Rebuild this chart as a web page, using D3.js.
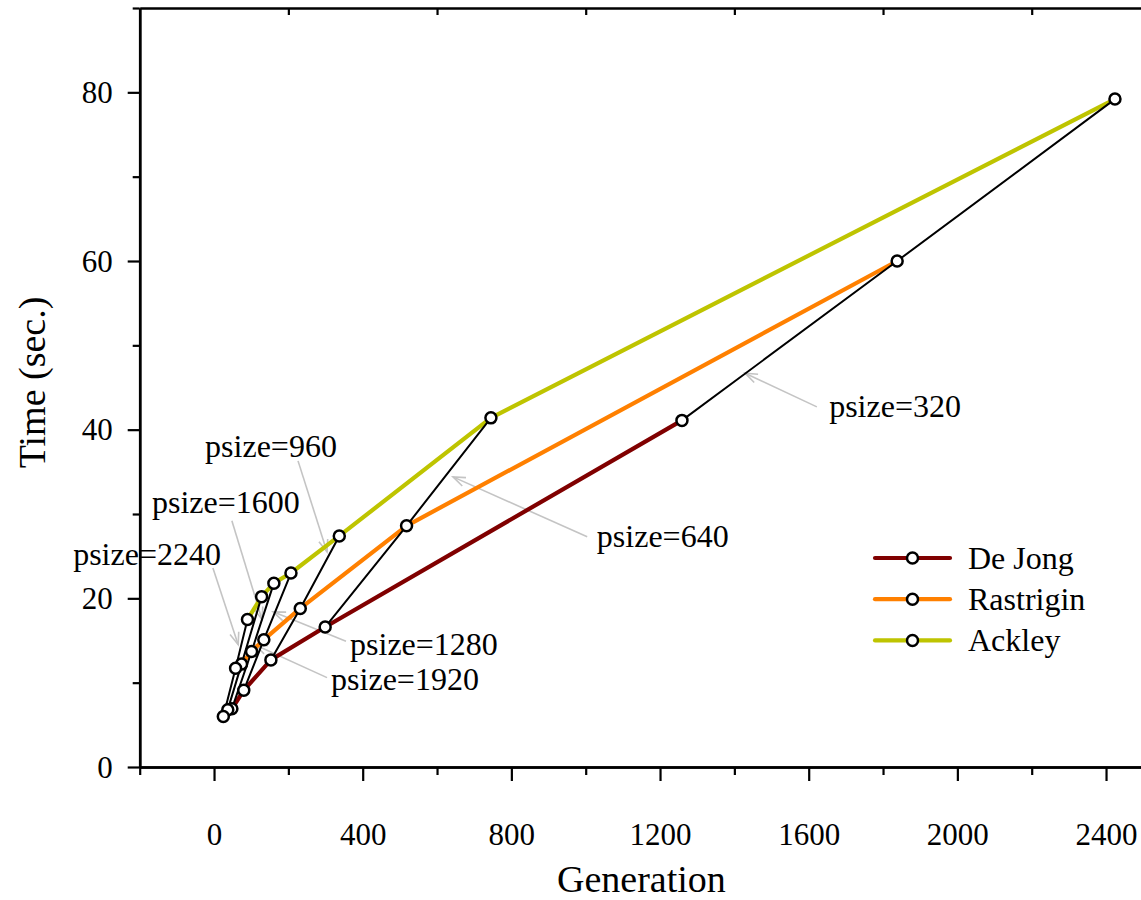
<!DOCTYPE html>
<html>
<head>
<meta charset="utf-8">
<script src="https://cdn.jsdelivr.net/npm/d3@7"></script>
<style>
  html, body { margin: 0; padding: 0; background: #ffffff; }
  svg { display: block; }
  text { font-family: "Liberation Serif", "Times New Roman", serif; fill: #000; }
</style>
</head>
<body>
<svg id="chart" width="1141" height="900"></svg>
<script>
// Population sizes; each one gives a point on every test function's curve
const psizes = [320, 640, 960, 1280, 1600, 1920, 2240];

// Generations needed and run time (seconds) per population size
const deJongGen      = [1259, 299, 153, 80, 48, 37, 25];
const deJongTime     = [41.1, 16.6, 12.7, 9.1, 6.9, 6.8, 6.0];
const rastriginGen   = [1838, 518, 232, 134, 101, 74, 58];
const rastriginTime  = [60.0, 28.6, 18.8, 15.1, 13.7, 12.2, 11.7];
const ackleyGen      = [2424, 745, 337, 207, 161, 128, 90];
const ackleyTime     = [79.2, 41.4, 27.4, 23.0, 21.8, 20.2, 17.5];

const seriesNames  = ["De Jong", "Rastrigin", "Ackley"];
const seriesColors = ["#800000", "#ff8000", "#bec400"];

// Axis ticks
const xMajorTicks = [0, 400, 800, 1200, 1600, 2000, 2400];
const xMinorTicks = [-200, 200, 600, 1000, 1400, 1800, 2200];
const xTopTicks   = [200, 600, 1000, 1400, 1800, 2200];
const yMajorTicks = [0, 20, 40, 60, 80];
const yMinorTicks = [10, 30, 50, 70, 90];

// Callouts naming the population size of each connecting line (data space)
const annotations = [
  { text: "psize=320",  at: [1655, 41.5], from: [1622, 42.7], to: [1429, 46.7] },
  { text: "psize=640",  at: [1030, 26.1], from: [1004, 27.3], to: [643, 34.4] },
  { text: "psize=960",  at: [-24, 36.8],  from: [226, 36.3],  to: [304, 25.5] },
  { text: "psize=1600", at: [-167, 30.1], from: [48, 29.2],   to: [129, 17.5] },
  { text: "psize=2240", at: [-379, 24.0], from: [-3, 23.6],   to: [65, 14.5] },
  { text: "psize=1280", at: [366, 13.3],  from: [355, 14.9],  to: [159, 18.4] },
  { text: "psize=1920", at: [315, 9.1],   from: [304, 10.6],  to: [110, 14.5] }
];

const svg = d3.select("#chart");

const x = d3.scaleLinear().domain([-200, 2500]).range([139.7, 1143.2]);
const y = d3.scaleLinear().domain([0, 90]).range([767, 8]);

const series = [
  { name: seriesNames[0], color: seriesColors[0], gen: deJongGen, time: deJongTime },
  { name: seriesNames[1], color: seriesColors[1], gen: rastriginGen, time: rastriginTime },
  { name: seriesNames[2], color: seriesColors[2], gen: ackleyGen, time: ackleyTime }
].map(s => ({ ...s, points: psizes.map((p, i) => ({ psize: p, gen: s.gen[i], time: s.time[i] })) }));

// ---- Axes ----
const axisStroke = 2.5;
function styleAxis(g) {
  g.selectAll("path.domain").attr("stroke", "#000").attr("stroke-width", axisStroke);
  g.selectAll(".tick line").attr("stroke", "#000").attr("stroke-width", 2.2);
}

// bottom: major ticks with labels
const gxMajor = svg.append("g").attr("transform", `translate(0,${y(0)})`)
  .call(d3.axisBottom(x).tickValues(xMajorTicks).tickSize(14).tickSizeOuter(0).tickFormat(d3.format("d")));
styleAxis(gxMajor);
gxMajor.selectAll(".tick text").attr("y", 78).attr("dy", 0).attr("font-size", 31)
  .style("font-family", '"Liberation Serif", "Times New Roman", serif');

// bottom: minor ticks
const gxMinor = svg.append("g").attr("transform", `translate(0,${y(0)})`)
  .call(d3.axisBottom(x).tickValues(xMinorTicks).tickSize(8).tickSizeOuter(0).tickFormat(""));
styleAxis(gxMinor);

// top frame with inward ticks
const gxTop = svg.append("g").attr("transform", `translate(0,${y(90)})`)
  .call(d3.axisBottom(x).tickValues(xTopTicks).tickSize(7).tickSizeOuter(0).tickFormat(""));
styleAxis(gxTop);

// left: major ticks with labels
const gyMajor = svg.append("g").attr("transform", `translate(${x(-200)},0)`)
  .call(d3.axisLeft(y).tickValues(yMajorTicks).tickSize(12).tickSizeOuter(0).tickPadding(15).tickFormat(d3.format("d")));
styleAxis(gyMajor);
gyMajor.selectAll(".tick text").attr("font-size", 31).attr("dy", "0.33em")
  .style("font-family", '"Liberation Serif", "Times New Roman", serif');

// left: minor ticks
const gyMinor = svg.append("g").attr("transform", `translate(${x(-200)},0)`)
  .call(d3.axisLeft(y).tickValues(yMinorTicks).tickSize(7).tickSizeOuter(0).tickFormat(""));
styleAxis(gyMinor);

// axis titles
svg.append("text")
  .attr("x", (x.range()[0] + x.range()[1]) / 2).attr("y", 892)
  .attr("text-anchor", "middle").attr("font-size", 38)
  .text("Generation");

svg.append("text")
  .attr("transform", `translate(45,${(y.range()[0] + y.range()[1]) / 2 - 5}) rotate(-90)`)
  .attr("text-anchor", "middle").attr("font-size", 38)
  .text("Time (sec.)");

// ---- Callout arrows (beneath the data) ----
const annoColor = "#c4c4c4";
const annoG = svg.append("g");
annotations.forEach(a => {
  const x1 = x(a.from[0]), y1 = y(a.from[1]);
  const x2 = x(a.to[0]), y2 = y(a.to[1]);
  annoG.append("line")
    .attr("x1", x1).attr("y1", y1).attr("x2", x2).attr("y2", y2)
    .attr("stroke", annoColor).attr("stroke-width", 1.6);
  const ang = Math.atan2(y1 - y2, x1 - x2);
  const len = 13, spread = 0.36;
  const p1 = [x2 + len * Math.cos(ang + spread), y2 + len * Math.sin(ang + spread)];
  const p2 = [x2 + len * Math.cos(ang - spread), y2 + len * Math.sin(ang - spread)];
  annoG.append("path")
    .attr("d", `M${p1[0]},${p1[1]}L${x2},${y2}L${p2[0]},${p2[1]}`)
    .attr("fill", "none").attr("stroke", annoColor).attr("stroke-width", 1.6);
});

// ---- Series lines ----
const line = d3.line().x(d => x(d.gen)).y(d => y(d.time));
series.forEach(s => {
  const pts = s.points.slice().sort((a, b) => a.gen - b.gen);
  svg.append("path").datum(pts)
    .attr("d", line)
    .attr("fill", "none").attr("stroke", s.color).attr("stroke-width", 4.2)
    .attr("stroke-linejoin", "round").attr("stroke-linecap", "round");
});

// ---- Black lines joining equal population sizes across the functions ----
psizes.forEach((p, i) => {
  const pts = series.map(s => s.points[i]);
  svg.append("path").datum(pts)
    .attr("d", line)
    .attr("fill", "none").attr("stroke", "#000").attr("stroke-width", 2);
});

// ---- Markers ----
series.forEach(s => {
  svg.append("g").selectAll("circle").data(s.points).join("circle")
    .attr("cx", d => x(d.gen)).attr("cy", d => y(d.time)).attr("r", 5.5)
    .attr("fill", "#fff").attr("stroke", "#000").attr("stroke-width", 2.5);
});

// ---- Callout labels ----
annotations.forEach(a => {
  svg.append("text")
    .attr("x", x(a.at[0])).attr("y", y(a.at[1]))
    .attr("font-size", 32)
    .text(a.text);
});

// ---- Legend ----
const legend = svg.append("g").attr("transform", "translate(875,558)");
series.forEach((s, i) => {
  const g = legend.append("g").attr("transform", `translate(0,${i * 41.2})`);
  g.append("line").attr("x1", 0).attr("x2", 75).attr("y1", 0).attr("y2", 0)
    .attr("stroke", s.color).attr("stroke-width", 4.2).attr("stroke-linecap", "round");
  g.append("circle").attr("cx", 37.5).attr("cy", 0).attr("r", 5.5)
    .attr("fill", "#fff").attr("stroke", "#000").attr("stroke-width", 2.5);
  g.append("text").attr("x", 93).attr("y", 11).attr("font-size", 32).text(s.name);
});
</script>
</body>
</html>
